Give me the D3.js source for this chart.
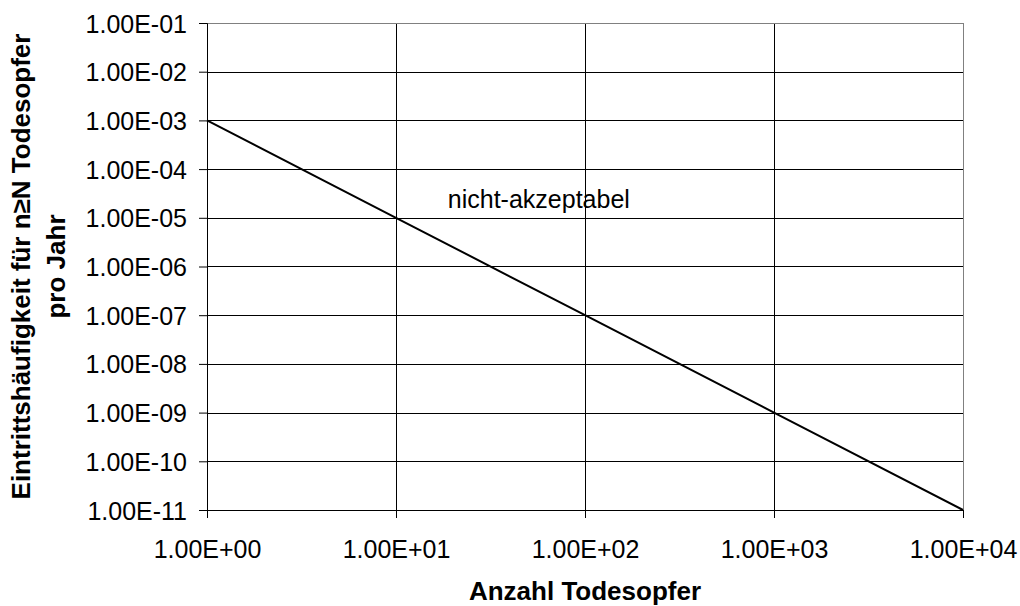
<!DOCTYPE html>
<html>
<head>
<meta charset="utf-8">
<script src="https://cdn.jsdelivr.net/npm/d3@7"></script>
<style>
  body { margin: 0; background: #fff; }
  svg text { font-family: "Liberation Sans", Arial, sans-serif; fill: #000; }
</style>
</head>
<body>
<div id="chart"></div>
<script>
// chart values
var xValues = [1, 10, 100, 1000, 10000];
var yValues = [1e-3, 1e-5, 1e-7, 1e-9, 1e-11];

var xTicks = [1, 10, 100, 1000, 10000];
var xTickLabels = ["1.00E+00", "1.00E+01", "1.00E+02", "1.00E+03", "1.00E+04"];
var yTicks = [1e-1, 1e-2, 1e-3, 1e-4, 1e-5, 1e-6, 1e-7, 1e-8, 1e-9, 1e-10, 1e-11];
var yTickLabels = ["1.00E-01", "1.00E-02", "1.00E-03", "1.00E-04", "1.00E-05", "1.00E-06",
                   "1.00E-07", "1.00E-08", "1.00E-09", "1.00E-10", "1.00E-11"];

var xTitle = "Anzahl Todesopfer";
var yTitleLines = ["Eintrittshäufigkeit für n≥N Todesopfer", "pro Jahr"];
var annotation = { x: 18.8, y: 1.6e-5, text: "nicht-akzeptabel" };

var width = 1020, height = 606;
var margin = {top: 23, right: 57, bottom: 96, left: 207};
var plot_width = width - margin.left - margin.right;
var plot_height = height - margin.top - margin.bottom;

var svg = d3.select("#chart").append("svg")
  .attr("width", width)
  .attr("height", height);

var g = svg.append("g").attr("transform", "translate(" + margin.left + "," + margin.top + ")");

var scaleX = d3.scaleLog().domain([1, 10000]).range([0, plot_width]);
var scaleY = d3.scaleLog().domain([1e-11, 1e-1]).range([plot_height, 0]);

// horizontal gridlines (top one is the gray frame)
g.selectAll(".hgrid")
  .data(yTicks.slice(1))
  .enter()
  .append("line")
  .attr("x1", 0)
  .attr("x2", plot_width)
  .attr("y1", function(d) { return Math.round(scaleY(d)) + 0.5; })
  .attr("y2", function(d) { return Math.round(scaleY(d)) + 0.5; })
  .attr("stroke", "#000")
  .attr("stroke-width", 1);

// vertical gridlines
g.selectAll(".vgrid")
  .data(xTicks.slice(1, -1))
  .enter()
  .append("line")
  .attr("y1", 0)
  .attr("y2", plot_height)
  .attr("x1", function(d) { return Math.round(scaleX(d)) + 0.5; })
  .attr("x2", function(d) { return Math.round(scaleX(d)) + 0.5; })
  .attr("stroke", "#000")
  .attr("stroke-width", 1);

// plot frame (top / right are gray)
g.append("rect")
  .attr("x", 0.5)
  .attr("y", 0.5)
  .attr("width", plot_width)
  .attr("height", plot_height)
  .attr("fill", "none")
  .attr("stroke", "#808080")
  .attr("stroke-width", 1);

// x axis
var xAxis = g.append("g")
  .attr("transform", "translate(0," + plot_height + ")")
  .call(d3.axisBottom(scaleX)
    .tickValues(xTicks)
    .tickSize(8)
    .tickPadding(0)
    .tickFormat(function(d, i) { return xTickLabels[i]; }));
xAxis.select(".domain").attr("stroke", "#000");
xAxis.selectAll(".tick line").attr("stroke", "#000");
xAxis.selectAll(".tick text")
  .attr("font-size", "25px")
  .attr("font-family", "Liberation Sans, Arial, sans-serif")
  .attr("y", 48)
  .attr("dy", 0);

// y axis
var yAxis = g.append("g")
  .call(d3.axisLeft(scaleY)
    .tickValues(yTicks)
    .tickSize(8)
    .tickPadding(12)
    .tickFormat(function(d, i) { return yTickLabels[i]; }));
yAxis.select(".domain").attr("stroke", "#000");
yAxis.selectAll(".tick line").attr("stroke", "#000");
yAxis.selectAll(".tick text")
  .attr("font-size", "25px")
  .attr("font-family", "Liberation Sans, Arial, sans-serif")
  .attr("x", -20)
  .attr("dy", "0.36em");

// the limit line
var limitLine = d3.line()
  .x(function(d, i) { return scaleX(xValues[i]); })
  .y(function(d, i) { return scaleY(yValues[i]); });

g.append("path")
  .datum(xValues)
  .attr("fill", "none")
  .attr("stroke", "#000")
  .attr("stroke-width", 2)
  .attr("d", limitLine);

// annotation
g.append("text")
  .attr("x", scaleX(annotation.x))
  .attr("y", scaleY(annotation.y))
  .attr("font-size", "25px")
  .text(annotation.text);

// axis titles
svg.append("text")
  .attr("x", margin.left + plot_width / 2)
  .attr("y", 600)
  .attr("text-anchor", "middle")
  .attr("font-size", "26px")
  .attr("font-weight", "bold")
  .text(xTitle);

var yTitleX = [30, 65];
yTitleLines.forEach(function(t, i) {
  svg.append("text")
    .attr("transform", "translate(" + yTitleX[i] + "," + (margin.top + plot_height / 2) + ") rotate(-90)")
    .attr("text-anchor", "middle")
    .attr("font-size", "26px")
    .attr("font-weight", "bold")
    .text(t);
});
</script>
</body>
</html>
